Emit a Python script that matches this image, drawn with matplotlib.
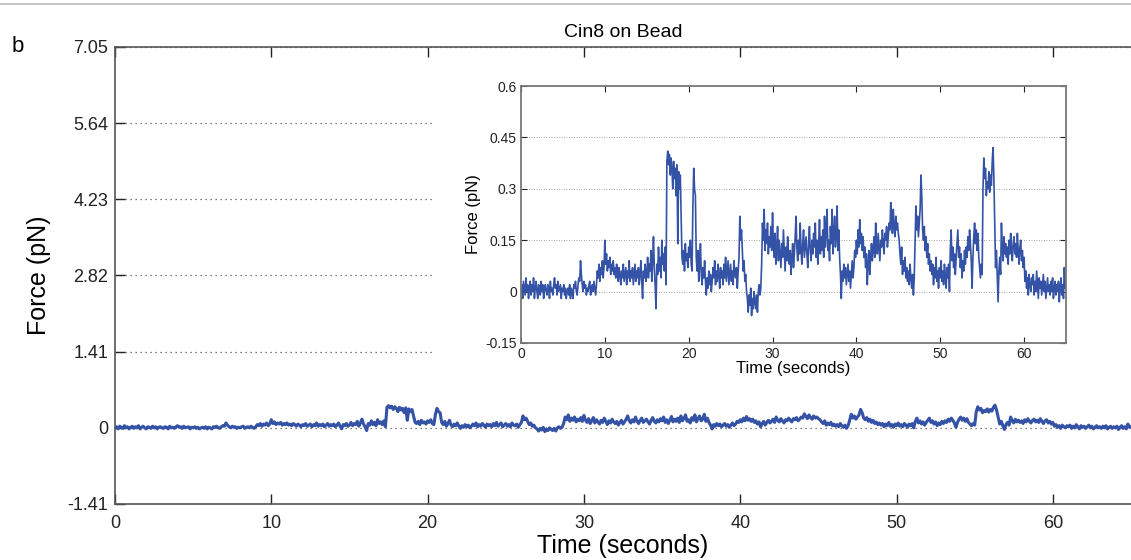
import numpy as np
import matplotlib
matplotlib.use('Agg')
import matplotlib.pyplot as plt
from matplotlib.lines import Line2D
from matplotlib.patches import Rectangle

plt.rcParams['font.family'] = ['Liberation Sans', 'DejaVu Sans']

dt = 0.1
force = [
    0.00, 0.02, -0.02, 0.03, 0.01, -0.01, 0.04, 0.00, 0.02, -0.02,
    0.01, 0.03, -0.01, 0.02, 0.00, 0.04, -0.02, 0.01, 0.03, 0.00,
    -0.02, 0.02, 0.01, -0.01, 0.03, 0.00, 0.02, -0.02, 0.01, 0.02,
    0.00, -0.01, 0.02, 0.01, -0.02, 0.03, 0.00, 0.01, -0.01, 0.02,
    0.04, 0.01, 0.02, -0.01, 0.03, 0.00, 0.01, 0.02, -0.02, 0.01,
    0.00, 0.02, -0.01, 0.01, -0.02, 0.00, 0.01, -0.01, 0.02, -0.02,
    0.01, 0.00, -0.02, 0.02, 0.01, 0.03, 0.00, -0.01, 0.02, 0.04,
    0.03, 0.09, 0.05, 0.02, 0.00, 0.03, 0.01, 0.02, -0.01, 0.01,
    0.00, 0.02, 0.03, -0.01, 0.01, 0.02, 0.00, 0.03, 0.01, -0.01,
    0.02, 0.06, 0.04, 0.08, 0.03, 0.07, 0.05, 0.09, 0.04, 0.07,
    0.15, 0.08, 0.11, 0.06, 0.09, 0.07, 0.10, 0.05, 0.08, 0.06,
    0.09, 0.05, 0.07, 0.04, 0.08, 0.06, 0.03, 0.07, 0.05, 0.02,
    0.06, 0.04, 0.08, 0.03, 0.05, 0.07, 0.02, 0.06, 0.04, 0.09,
    0.03, 0.06, 0.04, 0.07, 0.02, 0.05, 0.08, 0.03, 0.06, 0.04,
    0.07, 0.02, 0.05, 0.09, 0.03, -0.02, 0.06, 0.04, 0.08, 0.03,
    0.05, 0.10, 0.04, 0.08, 0.06, 0.12, 0.03, 0.09, 0.16, 0.07,
    0.02, -0.05, 0.08, 0.05, 0.13, 0.06, 0.10, 0.04, 0.15, 0.08,
    0.11, 0.06, 0.13, 0.02, 0.38, 0.41, 0.37, 0.40, 0.34, 0.39,
    0.36, 0.30, 0.38, 0.33, 0.36, 0.28, 0.37, 0.14, 0.35, 0.30,
    0.34, 0.22, 0.10, 0.08, 0.12, 0.06, 0.14, 0.09, 0.11, 0.07,
    0.13, 0.10, 0.15, 0.08, 0.06, 0.25, 0.36, 0.30, 0.28, 0.10,
    0.06, 0.12, 0.03, 0.08, 0.14, 0.05, 0.02, 0.07, 0.04, 0.09,
    0.03, -0.01, 0.04, 0.01, 0.06, 0.02, 0.05, 0.00, 0.03, 0.07,
    0.04, 0.09, 0.02, 0.06, 0.03, 0.08, 0.05, 0.01, 0.07, 0.04,
    0.06, 0.02, 0.08, 0.04, 0.10, 0.03, 0.06, 0.09, 0.02, 0.05,
    0.08, 0.03, 0.06, 0.02, 0.09, 0.05, 0.04, 0.07, 0.01, 0.06,
    0.10, 0.22, 0.15, 0.18, 0.12, 0.06, 0.09, 0.03, 0.05, 0.00,
    -0.02, -0.06, -0.01, -0.04, 0.01, -0.07, -0.02, -0.05, 0.00, -0.03,
    -0.05, -0.01, -0.06, 0.00, 0.02, -0.01, 0.01, 0.08, 0.20, 0.15,
    0.24, 0.12, 0.18, 0.14, 0.20, 0.11, 0.16, 0.13, 0.19, 0.12,
    0.23, 0.14, 0.10, 0.17, 0.08, 0.13, 0.19, 0.09, 0.15, 0.11,
    0.07, 0.14, 0.10, 0.18, 0.12, 0.06, 0.13, 0.09, 0.16, 0.11,
    0.08, 0.12, 0.05, 0.10, 0.14, 0.07, 0.11, 0.16, 0.22, 0.13,
    0.09, 0.15, 0.11, 0.20, 0.12, 0.08, 0.14, 0.18, 0.10, 0.13,
    0.16, 0.11, 0.07, 0.14, 0.19, 0.12, 0.09, 0.15, 0.11, 0.17,
    0.13, 0.20, 0.10, 0.15, 0.08, 0.14, 0.21, 0.11, 0.16, 0.12,
    0.18, 0.10, 0.22, 0.13, 0.17, 0.24, 0.12, 0.15, 0.09, 0.19,
    0.14, 0.24, 0.11, 0.17, 0.22, 0.13, 0.16, 0.25, 0.12, 0.18,
    0.10, 0.05, -0.02, 0.06, 0.03, 0.08, 0.04, 0.07, 0.02, 0.05,
    0.08, 0.03, 0.06, 0.01, 0.05, 0.09, 0.04, 0.07, 0.12, 0.10,
    0.15, 0.11, 0.18, 0.13, 0.21, 0.14, 0.17, 0.12, 0.16, 0.10,
    0.13, 0.07, 0.11, 0.02, 0.08, 0.12, 0.05, 0.10, 0.14, 0.09,
    0.12, 0.16, 0.10, 0.20, 0.14, 0.11, 0.17, 0.13, 0.09, 0.15,
    0.13, 0.18, 0.14, 0.11, 0.17, 0.15, 0.19, 0.13, 0.16, 0.20,
    0.18, 0.26, 0.21, 0.17, 0.24, 0.19, 0.16, 0.22, 0.18, 0.20,
    0.17, 0.15, 0.11, 0.08, 0.13, 0.05, 0.09, 0.06, 0.10, 0.04,
    0.07, 0.03, 0.06, 0.02, 0.08, 0.04, 0.01, 0.05, -0.01, 0.04,
    0.14, 0.25, 0.18, 0.22, 0.16, 0.20, 0.24, 0.34, 0.28, 0.18,
    0.15, 0.19, 0.12, 0.16, 0.10, 0.14, 0.08, 0.11, 0.06, 0.09,
    0.05, 0.08, 0.02, 0.07, 0.04, 0.10, 0.03, 0.06, 0.01, 0.07,
    0.04, 0.09, 0.03, 0.06, 0.02, 0.08, 0.05, 0.01, 0.07, 0.04,
    0.08, 0.00, 0.12, 0.18, 0.09, 0.13, 0.07, 0.11, 0.05, 0.10,
    0.14, 0.18, 0.10, 0.13, 0.07, 0.11, 0.04, 0.09, 0.06, 0.12,
    0.08, 0.13, 0.10, 0.16, 0.12, 0.18, 0.14, 0.09, 0.01, 0.10,
    0.16, 0.20, 0.14, 0.18, 0.12, 0.17, 0.10, 0.07, 0.04, 0.08,
    0.05, 0.30, 0.39, 0.33, 0.36, 0.28, 0.32, 0.30, 0.35, 0.29,
    0.34, 0.31, 0.38, 0.42, 0.33, 0.20, 0.07, 0.12, 0.04, -0.03,
    0.06, 0.10, 0.05, 0.20, 0.13, 0.09, 0.16, 0.11, 0.14, 0.10,
    0.13, 0.08, 0.15, 0.11, 0.17, 0.12, 0.09, 0.14, 0.16, 0.11,
    0.14, 0.10, 0.17, 0.12, 0.08, 0.13, 0.15, 0.09, 0.12, 0.07,
    0.10, 0.03, 0.06, 0.01, 0.04, -0.01, 0.05, 0.02, 0.00, 0.04,
    0.02, 0.05, -0.01, 0.03, 0.00, 0.06, 0.02, -0.02, 0.04, 0.01,
    0.03, -0.01, 0.02, 0.05, 0.00, 0.03, -0.02, 0.01, 0.04, 0.00,
    0.02, -0.01, 0.03, 0.00, 0.04, -0.02, 0.01, 0.03, -0.01, 0.02,
    0.00, 0.03, -0.03, 0.01, 0.04, -0.01, 0.02, -0.02, 0.07, 0.01,
    0.02,
]
time = np.arange(len(force)) * dt

main_yticks = [-1.41, 0, 1.41, 2.82, 4.23, 5.64, 7.05]
main_ylabels = ['-1.41', '0', '1.41', '2.82', '4.23', '5.64', '7.05']
main_xticks = [0, 10, 20, 30, 40, 50, 60]
inset_yticks = [-0.15, 0, 0.15, 0.3, 0.45, 0.6]
inset_ylabels = ['-0.15', '0', '0.15', '0.3', '0.45', '0.6']

blue = '#3553a6'

fig = plt.figure(figsize=(11.31, 5.6), dpi=100)

# ---- main axes ----
ax = fig.add_axes([115 / 1131, 56 / 560, 1016 / 1131, 457 / 560])
ax.plot(time, force, color=blue, linewidth=2.2, zorder=3)
ax.set_xlim(0, 65)
ax.set_ylim(-1.41, 7.05)
ax.set_yticks(main_yticks)
ax.set_yticklabels(main_ylabels)
ax.set_xticks(main_xticks)
ax.yaxis.grid(True, linestyle=(0, (1, 3)), color='#555555', linewidth=0.9)
ax.tick_params(direction='in', length=7, width=1, top=True, right=False,
               labelsize=13, colors='#222222', pad=5)
ax.tick_params(axis='x', pad=8)
for s in ['left', 'bottom', 'top']:
    ax.spines[s].set_color('#555555')
    ax.spines[s].set_linewidth(1.2)
ax.spines['right'].set_visible(False)
ax.set_xlabel('Time (seconds)', fontsize=18, labelpad=1)
ax.set_ylabel('Force (pN)', fontsize=18, labelpad=12)
ax.set_title('Cin8 on Bead', fontsize=14, pad=7)

# white backing behind the inset (hides main grid there)
fig.add_artist(Rectangle((432 / 1131, 175 / 560), 699 / 1131, 310 / 560,
                         transform=fig.transFigure, facecolor='white',
                         edgecolor='none', zorder=2))

# ---- inset ----
ins = fig.add_axes([521 / 1131, 217 / 560, 545 / 1131, 257 / 560], zorder=5)
ins.plot(time, force, color=blue, linewidth=1.2)
ins.set_xlim(0, 65)
ins.set_ylim(-0.15, 0.6)
ins.set_yticks(inset_yticks)
ins.set_yticklabels(inset_ylabels)
ins.set_xticks(main_xticks)
ins.yaxis.grid(True, linestyle=(0, (1, 2)), color='#888888', linewidth=0.6)
ins.tick_params(direction='in', length=4, width=0.8, top=True, right=True,
                labelsize=10, colors='#222222', pad=3)
for s in ins.spines.values():
    s.set_color('#777777')
    s.set_linewidth(1.3)
ins.set_xlabel('Time (seconds)', fontsize=12, labelpad=0)
ins.set_ylabel('Force (pN)', fontsize=12, labelpad=3)

# panel letter and top rule
fig.text(12 / 1131, 1 - 52 / 560, 'b', fontsize=16, va='baseline')
fig.add_artist(Line2D([0, 1], [1 - 4 / 560, 1 - 4 / 560], transform=fig.transFigure,
                      color='#bbbbbb', linewidth=1.2))

fig.savefig('out.png', dpi=100)
